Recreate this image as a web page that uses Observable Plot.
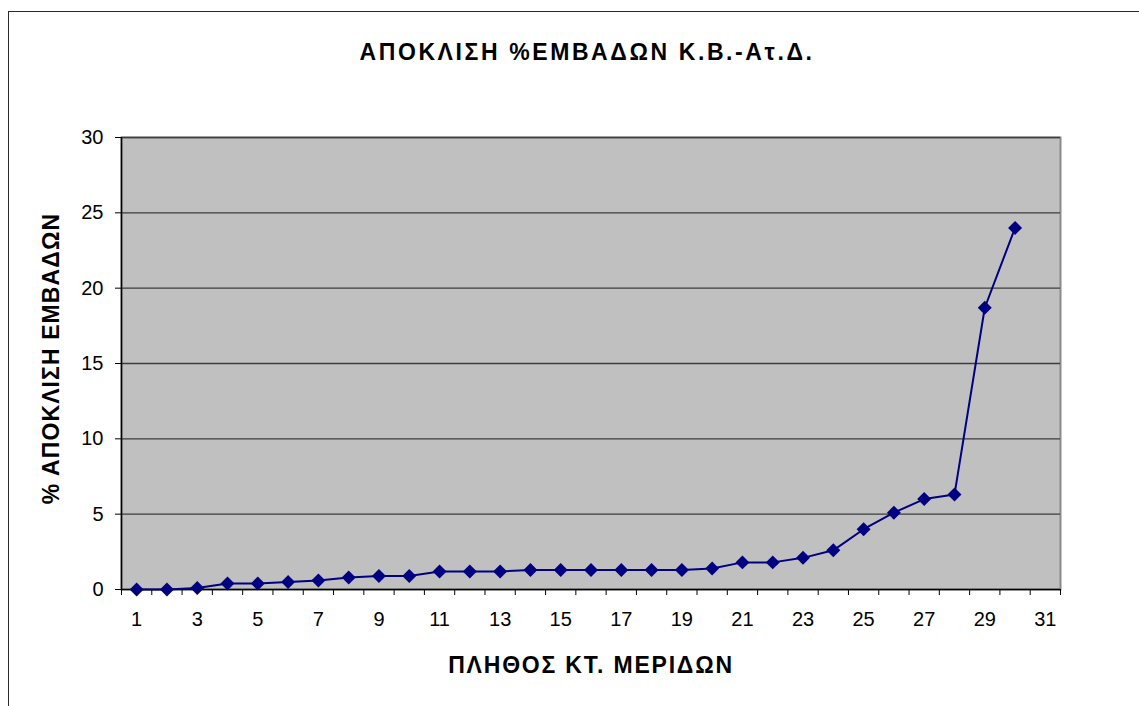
<!DOCTYPE html>
<html>
<head>
<meta charset="utf-8">
<script src="https://cdn.jsdelivr.net/npm/d3@7"></script>
<script src="https://cdn.jsdelivr.net/npm/@observablehq/plot@0.6"></script>
<style>
  html, body { margin: 0; padding: 0; background: #fff; }
  #wrap { position: relative; width: 1139px; height: 706px; overflow: hidden; background: #fff; }
  #border { position: absolute; left: 8px; top: 11px; width: 1300px; height: 900px; border: 1.5px solid #2a2a2a; box-sizing: border-box; }
  #chart { position: absolute; left: 0; top: 0; }
</style>
</head>
<body>
<div id="wrap"><div id="border"></div><div id="chart"></div></div>
<script>
const titleText = "ΑΠΟΚΛΙΣΗ %ΕΜΒΑΔΩΝ Κ.Β.-Ατ.Δ.";
const xTitle = "ΠΛΗΘΟΣ ΚΤ. ΜΕΡΙΔΩΝ";
const yTitle = "% ΑΠΟΚΛΙΣΗ ΕΜΒΑΔΩΝ";

const categories = [1,2,3,4,5,6,7,8,9,10,11,12,13,14,15,16,17,18,19,20,21,22,23,24,25,26,27,28,29,30];
const values = [0,0,0.1,0.4,0.4,0.5,0.6,0.8,0.9,0.9,1.2,1.2,1.2,1.3,1.3,1.3,1.3,1.3,1.3,1.4,1.8,1.8,2.1,2.6,4.0,5.1,6.0,6.3,18.7,24.0];
const xTickLabels = [1,3,5,7,9,11,13,15,17,19,21,23,25,27,29,31];
const xCategoryCount = 31;
const yTicks = [0,5,10,15,20,25,30];

const data = categories.map((c, i) => ({x: c, y: values[i]}));
const boundaries = d3.range(0, xCategoryCount + 1).map(i => i + 0.5);
const yGrid = yTicks.filter(t => t > 0);

const chart = Plot.plot({
  width: 1139,
  height: 706,
  marginLeft: 121,
  marginRight: 79,
  marginTop: 137,
  marginBottom: 117,
  style: {fontFamily: "'Liberation Sans', Arial, sans-serif", fontSize: "20px", background: "transparent", color: "#000", overflow: "visible"},
  x: {domain: [0.5, xCategoryCount + 0.5]},
  y: {domain: [0, 30]},
  marks: [
    Plot.frame({fill: "#C0C0C0", stroke: "#8a8a8a", strokeWidth: 2}),
    Plot.ruleY(yGrid, {stroke: "#3c3c3c", strokeWidth: 1.3}),
    Plot.ruleX([0.5], {stroke: "#000", strokeWidth: 1.5}),
    Plot.ruleY([0], {stroke: "#000", strokeWidth: 1.5}),
    Plot.axisY({ticks: yTicks, tickSize: 6, tickPadding: 12, fontSize: 20, label: null}),
    Plot.axisX({ticks: boundaries, tickSize: 6, tickFormat: () => "", label: null}),
    Plot.axisX({ticks: xTickLabels, tickSize: 0, tickPadding: 22, fontSize: 20, label: null}),
    Plot.line(data, {x: "x", y: "y", stroke: "#000080", strokeWidth: 2}),
    Plot.dot(data, {x: "x", y: "y", symbol: "diamond2", r: 6.3, fill: "#000080", stroke: "none"}),
    Plot.text([titleText], {frameAnchor: "top", textAnchor: "middle", lineAnchor: "bottom", dx: -4, dy: -78, fontSize: 23, fontWeight: "bold", fill: "#000"}),
    Plot.text([xTitle], {frameAnchor: "bottom", textAnchor: "middle", lineAnchor: "bottom", dy: 83, fontSize: 23, fontWeight: "bold", fill: "#000"}),
    Plot.text([yTitle], {frameAnchor: "left", textAnchor: "middle", lineAnchor: "bottom", rotate: -90, dx: -63, dy: -5, fontSize: 23, fontWeight: "bold", fill: "#000"})
  ]
});
const spacing = new Map([[titleText, "2.6px"], [xTitle, "1.8px"], [yTitle, "1.1px"]]);
d3.select(chart).selectAll("text").each(function() {
  const s = spacing.get(this.textContent);
  if (s) this.setAttribute("letter-spacing", s);
});
document.getElementById("chart").appendChild(chart);
</script>
</body>
</html>
